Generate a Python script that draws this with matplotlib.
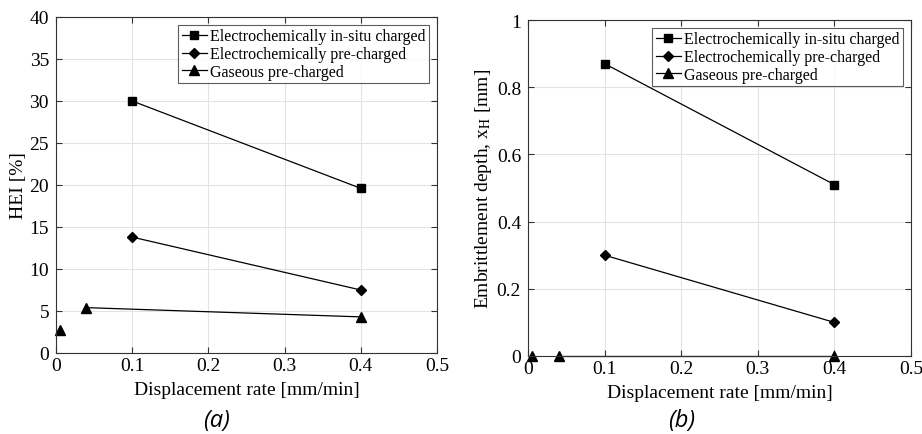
import matplotlib.pyplot as plt
from matplotlib.ticker import FuncFormatter

# data
rate = [0.1, 0.4]
hei_insitu = [30.0, 19.6]
hei_pre = [13.8, 7.5]
gas_rate = [0.04, 0.4]
hei_gas = [5.4, 4.3]
gas_extra_rate = [0.005]
hei_gas_extra = [2.7]

depth_insitu = [0.87, 0.51]
depth_pre = [0.30, 0.10]
depth_gas = [0.0, 0.0]
depth_gas_extra = [0.0]

legend_labels = ['Electrochemically in-situ charged',
                 'Electrochemically pre-charged',
                 'Gaseous pre-charged']

plt.rcParams['font.family'] = ['Liberation Serif', 'DejaVu Serif']
plt.rcParams['mathtext.fontset'] = 'stix'

fig = plt.figure(figsize=(9.22, 4.35), dpi=100)
W, H = 922, 435
ax1 = fig.add_axes([56 / W, 1 - 354 / H, (437 - 56) / W, (354 - 18) / H])
ax2 = fig.add_axes([528 / W, 1 - 357 / H, (911 - 528) / W, (357 - 21) / H])

fmt = FuncFormatter(lambda v, p: ('%g' % round(v, 3)))


def draw(ax, y1, y2, y3, y4, ylim, yticks, ylabel):
    ax.plot(rate, y1, '-s', color='black', lw=0.9, ms=6, label=legend_labels[0])
    ax.plot(rate, y2, '-D', color='black', lw=0.9, ms=5.5, label=legend_labels[1])
    ax.plot(gas_rate, y3, '-^', color='black', lw=0.9, ms=7.5, label=legend_labels[2])
    ax.plot(gas_extra_rate, y4, '^', color='black', ms=7.5)
    ax.set_xlim(0, 0.5)
    ax.set_ylim(*ylim)
    ax.set_xticks([0, 0.1, 0.2, 0.3, 0.4, 0.5])
    ax.set_yticks(yticks)
    ax.xaxis.set_major_formatter(fmt)
    ax.yaxis.set_major_formatter(fmt)
    ax.grid(True, color='#e3e3e3', lw=0.8)
    ax.set_axisbelow(True)
    for s in ax.spines.values():
        s.set_color('#333333')
        s.set_linewidth(0.8)
    ax.tick_params(direction='in', length=4, labelsize=14, color='#333333',
                   top=True, right=True)
    ax.tick_params(axis='x', pad=3)
    ax.tick_params(axis='y', pad=5)
    ax.set_xlabel('Displacement rate [mm/min]', fontsize=14, labelpad=5)
    ax.set_ylabel(ylabel, fontsize=14, labelpad=2)
    for line in ax.get_lines():
        line.set_clip_on(False)
    leg = ax.legend(loc='upper right', fontsize=11.5, frameon=True, fancybox=False,
                    edgecolor='#333333', borderpad=0.2, labelspacing=0.12,
                    handlelength=1.6, handletextpad=0.2, borderaxespad=0.5,
                    markerscale=0.9)
    leg.get_frame().set_linewidth(0.8)


draw(ax1, hei_insitu, hei_pre, hei_gas, hei_gas_extra, (0, 40),
     [0, 5, 10, 15, 20, 25, 30, 35, 40], 'HEI [%]')
draw(ax2, depth_insitu, depth_pre, depth_gas, depth_gas_extra, (0, 1),
     [0, 0.2, 0.4, 0.6, 0.8, 1.0], 'Embrittlement depth, x$_\\mathrm{H}$ [mm]')

fig.text(217 / W, 1 - 421 / H, '(a)', fontsize=17, style='italic',
         family='Open Sans', ha='center', va='center')
fig.text(682 / W, 1 - 421 / H, '(b)', fontsize=17, style='italic',
         family='Open Sans', ha='center', va='center')

fig.savefig('out.png', dpi=100)
